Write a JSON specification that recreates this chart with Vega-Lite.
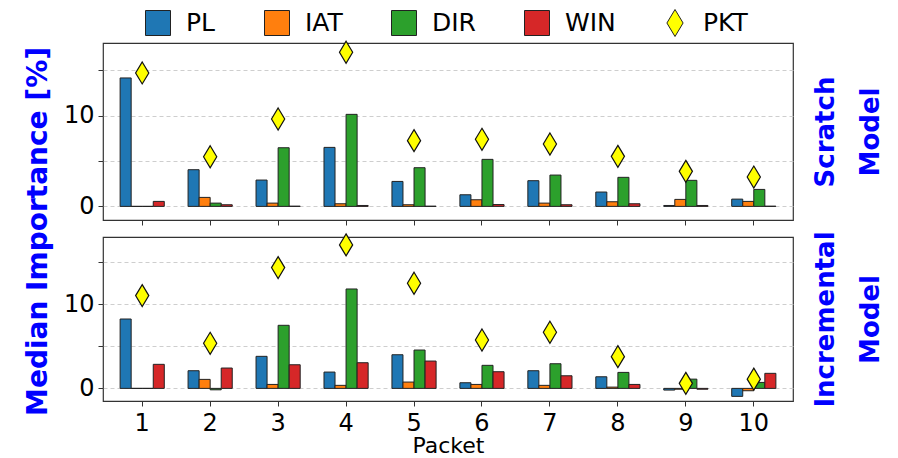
{
  "$schema": "https://vega.github.io/schema/vega-lite/v6.json",
  "padding": {"left": 23, "top": 10, "right": 5, "bottom": 0},
  "background": "white",
  "bounds": "flush",
  "spacing": 17,
  "config": {
    "font": "DejaVu Sans",
    "view": {"stroke": "#333", "strokeWidth": 1.2},
    "axis": {"labelColor": "#000", "tickColor": "#333", "titleColor": "#000", "labelFont": "DejaVu Sans", "titleFont": "DejaVu Sans"}
  },
  "data": {"values": [
    {"model": "Scratch", "packet": 1, "feature": "PL", "value": 14.15},
    {"model": "Scratch", "packet": 1, "feature": "IAT", "value": 0},
    {"model": "Scratch", "packet": 1, "feature": "DIR", "value": 0},
    {"model": "Scratch", "packet": 1, "feature": "WIN", "value": 0.55},
    {"model": "Scratch", "packet": 1, "feature": "PKT", "value": 14.7},
    {"model": "Scratch", "packet": 2, "feature": "PL", "value": 4.04},
    {"model": "Scratch", "packet": 2, "feature": "IAT", "value": 0.99},
    {"model": "Scratch", "packet": 2, "feature": "DIR", "value": 0.36},
    {"model": "Scratch", "packet": 2, "feature": "WIN", "value": 0.18},
    {"model": "Scratch", "packet": 2, "feature": "PKT", "value": 5.47},
    {"model": "Scratch", "packet": 3, "feature": "PL", "value": 2.9},
    {"model": "Scratch", "packet": 3, "feature": "IAT", "value": 0.36},
    {"model": "Scratch", "packet": 3, "feature": "DIR", "value": 6.46},
    {"model": "Scratch", "packet": 3, "feature": "WIN", "value": 0.02},
    {"model": "Scratch", "packet": 3, "feature": "PKT", "value": 9.63},
    {"model": "Scratch", "packet": 4, "feature": "PL", "value": 6.5},
    {"model": "Scratch", "packet": 4, "feature": "IAT", "value": 0.29},
    {"model": "Scratch", "packet": 4, "feature": "DIR", "value": 10.14},
    {"model": "Scratch", "packet": 4, "feature": "WIN", "value": 0.1},
    {"model": "Scratch", "packet": 4, "feature": "PKT", "value": 16.98},
    {"model": "Scratch", "packet": 5, "feature": "PL", "value": 2.75},
    {"model": "Scratch", "packet": 5, "feature": "IAT", "value": 0.18},
    {"model": "Scratch", "packet": 5, "feature": "DIR", "value": 4.26},
    {"model": "Scratch", "packet": 5, "feature": "WIN", "value": 0.02},
    {"model": "Scratch", "packet": 5, "feature": "PKT", "value": 7.24},
    {"model": "Scratch", "packet": 6, "feature": "PL", "value": 1.28},
    {"model": "Scratch", "packet": 6, "feature": "IAT", "value": 0.73},
    {"model": "Scratch", "packet": 6, "feature": "DIR", "value": 5.18},
    {"model": "Scratch", "packet": 6, "feature": "WIN", "value": 0.2},
    {"model": "Scratch", "packet": 6, "feature": "PKT", "value": 7.39},
    {"model": "Scratch", "packet": 7, "feature": "PL", "value": 2.83},
    {"model": "Scratch", "packet": 7, "feature": "IAT", "value": 0.36},
    {"model": "Scratch", "packet": 7, "feature": "DIR", "value": 3.45},
    {"model": "Scratch", "packet": 7, "feature": "WIN", "value": 0.18},
    {"model": "Scratch", "packet": 7, "feature": "PKT", "value": 6.87},
    {"model": "Scratch", "packet": 8, "feature": "PL", "value": 1.58},
    {"model": "Scratch", "packet": 8, "feature": "IAT", "value": 0.51},
    {"model": "Scratch", "packet": 8, "feature": "DIR", "value": 3.2},
    {"model": "Scratch", "packet": 8, "feature": "WIN", "value": 0.29},
    {"model": "Scratch", "packet": 8, "feature": "PKT", "value": 5.51},
    {"model": "Scratch", "packet": 9, "feature": "PL", "value": 0.1},
    {"model": "Scratch", "packet": 9, "feature": "IAT", "value": 0.77},
    {"model": "Scratch", "packet": 9, "feature": "DIR", "value": 2.87},
    {"model": "Scratch", "packet": 9, "feature": "WIN", "value": 0.1},
    {"model": "Scratch", "packet": 9, "feature": "PKT", "value": 3.86},
    {"model": "Scratch", "packet": 10, "feature": "PL", "value": 0.8},
    {"model": "Scratch", "packet": 10, "feature": "IAT", "value": 0.55},
    {"model": "Scratch", "packet": 10, "feature": "DIR", "value": 1.87},
    {"model": "Scratch", "packet": 10, "feature": "WIN", "value": 0.02},
    {"model": "Scratch", "packet": 10, "feature": "PKT", "value": 3.23},
    {"model": "Incremental", "packet": 1, "feature": "PL", "value": 8.25},
    {"model": "Incremental", "packet": 1, "feature": "IAT", "value": 0},
    {"model": "Incremental", "packet": 1, "feature": "DIR", "value": 0},
    {"model": "Incremental", "packet": 1, "feature": "WIN", "value": 2.86},
    {"model": "Incremental", "packet": 1, "feature": "PKT", "value": 11.03},
    {"model": "Incremental", "packet": 2, "feature": "PL", "value": 2.1},
    {"model": "Incremental", "packet": 2, "feature": "IAT", "value": 1.07},
    {"model": "Incremental", "packet": 2, "feature": "DIR", "value": -0.17},
    {"model": "Incremental", "packet": 2, "feature": "WIN", "value": 2.42},
    {"model": "Incremental", "packet": 2, "feature": "PKT", "value": 5.36},
    {"model": "Incremental", "packet": 3, "feature": "PL", "value": 3.81},
    {"model": "Incremental", "packet": 3, "feature": "IAT", "value": 0.47},
    {"model": "Incremental", "packet": 3, "feature": "DIR", "value": 7.5},
    {"model": "Incremental", "packet": 3, "feature": "WIN", "value": 2.81},
    {"model": "Incremental", "packet": 3, "feature": "PKT", "value": 14.36},
    {"model": "Incremental", "packet": 4, "feature": "PL", "value": 1.94},
    {"model": "Incremental", "packet": 4, "feature": "IAT", "value": 0.36},
    {"model": "Incremental", "packet": 4, "feature": "DIR", "value": 11.82},
    {"model": "Incremental", "packet": 4, "feature": "WIN", "value": 3.05},
    {"model": "Incremental", "packet": 4, "feature": "PKT", "value": 17.06},
    {"model": "Incremental", "packet": 5, "feature": "PL", "value": 4.0},
    {"model": "Incremental", "packet": 5, "feature": "IAT", "value": 0.75},
    {"model": "Incremental", "packet": 5, "feature": "DIR", "value": 4.56},
    {"model": "Incremental", "packet": 5, "feature": "WIN", "value": 3.25},
    {"model": "Incremental", "packet": 5, "feature": "PKT", "value": 12.5},
    {"model": "Incremental", "packet": 6, "feature": "PL", "value": 0.67},
    {"model": "Incremental", "packet": 6, "feature": "IAT", "value": 0.47},
    {"model": "Incremental", "packet": 6, "feature": "DIR", "value": 2.74},
    {"model": "Incremental", "packet": 6, "feature": "WIN", "value": 1.98},
    {"model": "Incremental", "packet": 6, "feature": "PKT", "value": 5.75},
    {"model": "Incremental", "packet": 7, "feature": "PL", "value": 2.1},
    {"model": "Incremental", "packet": 7, "feature": "IAT", "value": 0.36},
    {"model": "Incremental", "packet": 7, "feature": "DIR", "value": 2.93},
    {"model": "Incremental", "packet": 7, "feature": "WIN", "value": 1.5},
    {"model": "Incremental", "packet": 7, "feature": "PKT", "value": 6.67},
    {"model": "Incremental", "packet": 8, "feature": "PL", "value": 1.38},
    {"model": "Incremental", "packet": 8, "feature": "IAT", "value": 0.15},
    {"model": "Incremental", "packet": 8, "feature": "DIR", "value": 1.9},
    {"model": "Incremental", "packet": 8, "feature": "WIN", "value": 0.47},
    {"model": "Incremental", "packet": 8, "feature": "PKT", "value": 3.77},
    {"model": "Incremental", "packet": 9, "feature": "PL", "value": -0.2},
    {"model": "Incremental", "packet": 9, "feature": "IAT", "value": -0.1},
    {"model": "Incremental", "packet": 9, "feature": "DIR", "value": 1.1},
    {"model": "Incremental", "packet": 9, "feature": "WIN", "value": -0.1},
    {"model": "Incremental", "packet": 9, "feature": "PKT", "value": 0.6},
    {"model": "Incremental", "packet": 10, "feature": "PL", "value": -0.95},
    {"model": "Incremental", "packet": 10, "feature": "IAT", "value": -0.28},
    {"model": "Incremental", "packet": 10, "feature": "DIR", "value": 0.71},
    {"model": "Incremental", "packet": 10, "feature": "WIN", "value": 1.79},
    {"model": "Incremental", "packet": 10, "feature": "PKT", "value": 1.1}
  ]},
  "vconcat": [
    {
      "width": 690,
      "height": 177,
      "transform": [{"filter": "datum.model === 'Scratch'"}],
      "layer": [
        {
          "mark": {"type": "bar", "stroke": "#222", "strokeWidth": 1},
          "transform": [{"filter": "datum.feature !== 'PKT'"}],
          "encoding": {
            "x": {"field": "packet", "type": "ordinal", "scale": {"paddingInner": 0.35, "paddingOuter": 0.252},
                  "axis": {"title": null, "labels": false, "ticks": true, "tickSize": 5, "domain": false, "grid": false}},
            "xOffset": {"field": "feature", "type": "nominal", "scale": {"domain": ["PL", "IAT", "DIR", "WIN"], "paddingInner": 0, "paddingOuter": 0}},
            "y": {"field": "value", "type": "quantitative", "scale": {"domain": [-1.5, 18], "nice": false},
                  "axis": {"values": [0, 5, 10, 15], "labelExpr": "datum.value % 10 === 0 ? datum.label : ''", "grid": true, "gridDash": [4, 3], "gridColor": "#c8c8c8", "gridWidth": 0.9, "domain": false, "tickSize": 5, "labelFontSize": 24, "labelPadding": 4,
                           "title": "Median Importance [%]", "titleFontSize": 28, "titleFontWeight": "bold", "titleColor": "blue", "titleY": 188, "titlePadding": 11}},
            "y2": {"datum": 0},
            "color": {"field": "feature", "type": "nominal",
                      "scale": {"domain": ["PL", "IAT", "DIR", "WIN", "PKT"], "range": ["#1f77b4", "#ff7f0e", "#2ca02c", "#d62728", "#ffff00"]},
                      "legend": {"title": null, "orient": "none", "legendX": 42, "legendY": -33, "direction": "horizontal", "columns": 5, "gridAlign": "none",
                                 "labelFontSize": 25, "labelColor": "#000", "symbolSize": 625, "symbolType": "square", "symbolStrokeColor": "#222", "symbolStrokeWidth": 1, "symbolFillOpacity": 1, "symbolOpacity": 1,
                                 "labelOffset": 15, "columnPadding": 46,
                                 "encode": {"symbols": {"update": {
                                   "shape": {"signal": "datum.value === 'PKT' ? 'M0,-1L0.6,0L0,1L-0.6,0Z' : 'square'"},
                                   "size": {"signal": "datum.value === 'PKT' ? 729 : 625"}
                                 }}}}}
          }
        },
        {
          "mark": {"type": "point", "shape": "M0,-1L0.6,0L0,1L-0.6,0Z", "filled": true, "size": 484, "stroke": "#111", "strokeWidth": 1.2, "opacity": 1},
          "transform": [{"filter": "datum.feature === 'PKT'"}],
          "encoding": {
            "x": {"field": "packet", "type": "ordinal"},
            "y": {"field": "value", "type": "quantitative",
                  "axis": {"orient": "right", "title": ["Scratch", "Model"], "titleAngle": 270, "labels": false, "ticks": false, "domain": false, "grid": false,
                           "titleFontSize": 26, "titleFontWeight": "bold", "titleColor": "blue", "titleLineHeight": 45, "titlePadding": 0}},
            "color": {"field": "feature", "type": "nominal"}
          }
        }
      ],
      "resolve": {"axis": {"y": "independent"}}
    },
    {
      "width": 690,
      "height": 164,
      "transform": [{"filter": "datum.model === 'Incremental'"}],
      "layer": [
        {
          "mark": {"type": "bar", "stroke": "#222", "strokeWidth": 1},
          "transform": [{"filter": "datum.feature !== 'PKT'"}],
          "encoding": {
            "x": {"field": "packet", "type": "ordinal", "scale": {"paddingInner": 0.35, "paddingOuter": 0.252},
                  "axis": {"title": "Packet", "labelAngle": 0, "labelFontSize": 24, "labelPadding": 5, "titleFontSize": 22, "titleFontWeight": "normal", "titlePadding": 0, "tickSize": 5, "domain": false, "grid": false}},
            "xOffset": {"field": "feature", "type": "nominal", "scale": {"domain": ["PL", "IAT", "DIR", "WIN"], "paddingInner": 0, "paddingOuter": 0}},
            "y": {"field": "value", "type": "quantitative", "scale": {"domain": [-1.5, 18], "nice": false},
                  "axis": {"values": [0, 5, 10, 15], "labelExpr": "datum.value % 10 === 0 ? datum.label : ''", "grid": true, "gridDash": [4, 3], "gridColor": "#c8c8c8", "gridWidth": 0.9, "domain": false, "tickSize": 5, "labelFontSize": 24, "labelPadding": 4, "title": null}},
            "y2": {"datum": 0},
            "color": {"field": "feature", "type": "nominal"}
          }
        },
        {
          "mark": {"type": "point", "shape": "M0,-1L0.6,0L0,1L-0.6,0Z", "filled": true, "size": 484, "stroke": "#111", "strokeWidth": 1.2, "opacity": 1},
          "transform": [{"filter": "datum.feature === 'PKT'"}],
          "encoding": {
            "x": {"field": "packet", "type": "ordinal"},
            "y": {"field": "value", "type": "quantitative",
                  "axis": {"orient": "right", "title": ["Incremental", "Model"], "titleAngle": 270, "labels": false, "ticks": false, "domain": false, "grid": false,
                           "titleFontSize": 26, "titleFontWeight": "bold", "titleColor": "blue", "titleLineHeight": 45, "titlePadding": 0}},
            "color": {"field": "feature", "type": "nominal"}
          }
        }
      ],
      "resolve": {"axis": {"y": "independent"}}
    }
  ]
}
